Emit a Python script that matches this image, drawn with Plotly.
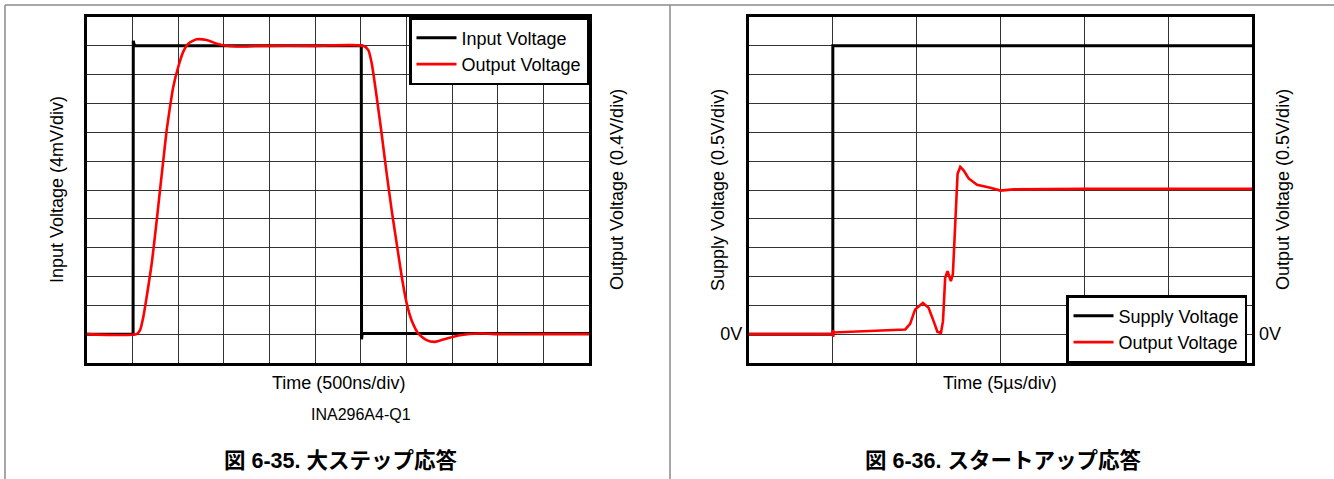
import plotly.graph_objects as go

# ---------------- Data: Fig 6-35 large step response ----------------
step_in_t_ns = [0, 505, 507, 515, 530, 1000, 2000, 3005, 3008, 3015, 3030, 4000, 5500]
step_in_mV = [0, 0, 40.7, 40.2, 40, 40, 40, 40, -0.7, 0.1, 0.1, 0.1, 0.1]

step_out_t_ns = [0, 544, 581, 617, 654, 709, 764, 800, 836, 873, 909, 945, 1000, 1055,
                 1110, 1202, 1311, 1421, 1530, 1676, 1895, 2500, 3027, 3082, 3119, 3174,
                 3228, 3283, 3338, 3393, 3448, 3502, 3557, 3630, 3721, 3812, 3941, 4086,
                 4305, 4524, 5000, 5500]
step_out_V = [0, 0, 0.055, 0.24, 0.52, 0.98, 1.58, 2.00, 2.41, 2.83, 3.15, 3.43, 3.71, 3.92,
              4.03, 4.09, 4.08, 4.03, 4.00, 3.99, 4.00, 4.00, 4.00, 3.94, 3.76, 3.29,
              2.78, 2.23, 1.72, 1.26, 0.80, 0.43, 0.19, 0.01, -0.083, -0.107, -0.06, -0.014,
              0.01, 0.0, 0.0, 0.0]

# ---------------- Data: Fig 6-36 start-up response ----------------
start_supply_t_us = [0, 5.0, 5.0, 30]
start_supply_V = [0, 0, 5.0, 5.0]

start_out_t_us = [0, 4.98, 5.0, 5.02, 5.04, 5.06, 7.0, 9.32, 9.61, 9.91, 10.37, 10.71, 11.01,
                  11.24, 11.45, 11.57, 11.70, 11.84, 12.04, 12.16, 12.30, 12.44, 12.60,
                  12.80, 13.10, 13.60, 14.39, 14.99, 15.78, 20.0, 30.0]
start_out_V = [0, 0, 0.07, -0.05, 0.05, 0.03, 0.05, 0.082, 0.179, 0.429, 0.543, 0.457, 0.226,
               0.04, 0.023, 0.226, 0.977, 1.094, 0.92, 1.04, 1.91, 2.78, 2.90,
               2.84, 2.70, 2.59, 2.54, 2.49, 2.51, 2.52, 2.52]

W, H = 1334, 479
FONT = "Liberation Sans, Arial, Noto Sans CJK JP, sans-serif"
CJK = "Liberation Sans, Arial, Noto Sans CJK JP, sans-serif"


def px_x(p):
    return p / W


def px_y(p):
    return 1 - p / H


fig = go.Figure()

fig.add_trace(go.Scatter(x=step_in_t_ns, y=step_in_mV, mode="lines", name="Input Voltage",
                         line=dict(color="black", width=3), xaxis="x", yaxis="y", legend="legend"))
fig.add_trace(go.Scatter(x=step_out_t_ns, y=step_out_V, mode="lines", name="Output Voltage",
                         line=dict(color="#ff0000", width=2.6, shape="spline", smoothing=0.6),
                         xaxis="x", yaxis="y2", legend="legend"))
fig.add_trace(go.Scatter(x=start_supply_t_us, y=start_supply_V, mode="lines", name="Supply Voltage",
                         line=dict(color="black", width=3), xaxis="x2", yaxis="y3", legend="legend2"))
fig.add_trace(go.Scatter(x=start_out_t_us, y=start_out_V, mode="lines", name="Output Voltage",
                         line=dict(color="#ff0000", width=2.6), xaxis="x2", yaxis="y4", legend="legend2"))

grid = dict(showgrid=True, gridcolor="#333333", gridwidth=1, zeroline=False, ticks="",
            showline=True, linecolor="black", linewidth=3, mirror=True)

ydom = [px_y(363), px_y(17)]
sup_ticks = [-0.5 + 0.5 * i for i in range(13)]
sup_text = ["0V" if abs(v) < 1e-9 else "" for v in sup_ticks]

fig.update_layout(
    width=W, height=H, margin=dict(l=0, r=0, t=0, b=0),
    paper_bgcolor="white", plot_bgcolor="white",
    font=dict(family=FONT, size=18, color="black"),
    xaxis=dict(domain=[px_x(87), px_x(589)], range=[0, 5500], tick0=0, dtick=500,
               showticklabels=False, anchor="y", **grid),
    yaxis=dict(domain=ydom, range=[-4, 44], tick0=0, dtick=4, showticklabels=False,
               anchor="x", **grid),
    yaxis2=dict(overlaying="y", side="right", range=[-0.4, 4.4], showgrid=False,
                showticklabels=False, zeroline=False, showline=False, anchor="x"),
    xaxis2=dict(domain=[px_x(749), px_x(1252)], range=[0, 30], tick0=0, dtick=5,
                showticklabels=False, anchor="y3", **grid),
    yaxis3=dict(domain=ydom, range=[-0.5, 5.5], tickvals=sup_ticks, ticktext=sup_text,
                tickfont=dict(size=18), anchor="x2", **grid),
    yaxis4=dict(overlaying="y3", side="right", range=[-0.5, 5.5], tickvals=[0], ticktext=["0V"],
                tickfont=dict(size=18), showgrid=False, zeroline=False, showline=False,
                ticks="", anchor="x2", ticklabelstandoff=6),
    legend=dict(x=px_x(589), xanchor="right", y=px_y(17), yanchor="top",
                bgcolor="white", bordercolor="black", borderwidth=2.5,
                font=dict(size=18), tracegroupgap=0, itemwidth=40),
    legend2=dict(x=px_x(1247), xanchor="right", y=px_y(363), yanchor="bottom",
                 bgcolor="white", bordercolor="black", borderwidth=2.5,
                 font=dict(size=18), tracegroupgap=0, itemwidth=40),
    showlegend=True,
)

ann = [
    dict(text="Input Voltage (4mV/div)", x=px_x(57), y=px_y(190), textangle=-90),
    dict(text="Output Voltage (0.4V/div)", x=px_x(617), y=px_y(190), textangle=-90),
    dict(text="Time (500ns/div)", x=px_x(338), y=px_y(383)),
    dict(text="INA296A4-Q1", x=px_x(361), y=px_y(414), font=dict(size=16)),
    dict(text="<b>図 6-35. 大ステップ応答</b>", x=px_x(340), y=px_y(460),
         font=dict(size=21.5, family=CJK)),
    dict(text="Supply Voltage (0.5V/div)", x=px_x(718), y=px_y(190), textangle=-90),
    dict(text="Output Voltage (0.5V/div)", x=px_x(1283), y=px_y(190), textangle=-90),
    dict(text="Time (5µs/div)", x=px_x(1000), y=px_y(383)),
    dict(text="<b>図 6-36. スタートアップ応答</b>", x=px_x(1003), y=px_y(460),
         font=dict(size=21.5, family=CJK)),
]
for a in ann:
    a.setdefault("font", dict(size=18))
    fig.add_annotation(xref="paper", yref="paper", showarrow=False,
                       xanchor="center", yanchor="middle", **a)

border = dict(color="#8a8a8a", width=1.5)
fig.add_shape(type="line", xref="paper", yref="paper", x0=px_x(5), x1=1, y0=px_y(5), y1=px_y(5), line=border)
fig.add_shape(type="line", xref="paper", yref="paper", x0=px_x(5), x1=px_x(5), y0=0, y1=px_y(5), line=border)
fig.add_shape(type="line", xref="paper", yref="paper", x0=px_x(670), x1=px_x(670), y0=0, y1=px_y(5), line=border)

fig.write_html("out.html", config={"displayModeBar": False},
               post_script="document.body.style.margin='0';document.body.style.overflow='hidden';")
